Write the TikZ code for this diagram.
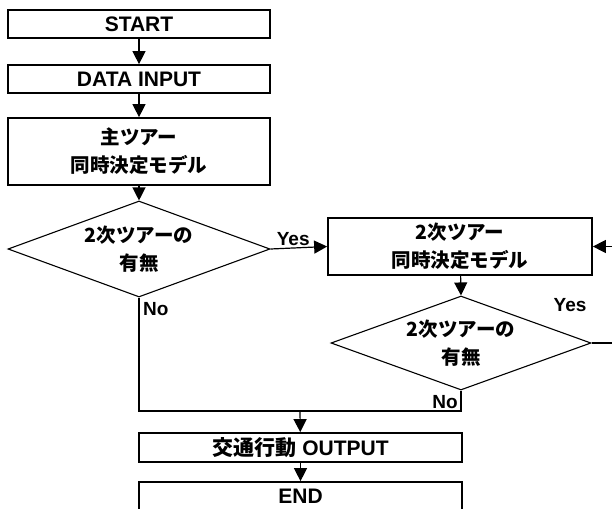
\documentclass[tikz,border=0pt]{standalone}
\usepackage{fontspec}
\setmainfont{Liberation Sans}
\newfontfamily\jp{Noto Sans CJK JP}
\usetikzlibrary{shapes.geometric,arrows.meta}

\begin{document}
\begin{tikzpicture}[x=1pt,y=-1pt,
  box/.style={draw,line width=1.7pt,rectangle,inner sep=0pt,align=center,
    font=\bfseries\fontsize{21}{28}\selectfont},
  jpbox/.style={box,font=\jp\bfseries\fontsize{19.5}{28}\selectfont},
  decision/.style={draw,line width=1.1pt,diamond,inner sep=0pt},
  dtext/.style={align=center,inner sep=0pt,
    font=\jp\bfseries\fontsize{19.5}{28}\selectfont},
  flow/.style={line width=1.2pt,-{Triangle[length=13pt,width=13pt]}},
  wire/.style={line width=1.2pt},
  lbl/.style={font=\bfseries\fontsize{19}{22}\selectfont,inner sep=1pt}]

\path[use as bounding box] (0,0) rectangle (612,508);
\clip (0,0) rectangle (612,508);

% main column
\node[box,minimum width=262pt,minimum height=28pt] (start) at (139,24) {START};
\node[box,minimum width=262pt,minimum height=28pt] (input) at (139,79) {DATA INPUT};
\node[jpbox,minimum width=262pt,minimum height=67pt] (main) at (139,151.5)
  {主ツアー\\同時決定モデル};
\node[decision,minimum width=262pt,minimum height=96pt] (d1) at (139,249) {};
\node[dtext] (d1t) at (d1) {2次ツアーの\\有無};

% secondary tour loop
\node[jpbox,minimum width=264pt,minimum height=57pt] (sub) at (460,246.5)
  {2次ツアー\\同時決定モデル};
\node[decision,minimum width=260pt,minimum height=94pt] (d2) at (461,343) {};
\node[dtext] (d2t) at (d2) {2次ツアーの\\有無};

% output and end
\node[box,minimum width=323pt,minimum height=29pt] (out) at (300.5,447.5)
  {{\jp 交通行動} OUTPUT};
\node[box,minimum width=323pt,minimum height=29pt] (end) at (300.5,496.5) {END};

\coordinate (merge) at (300,411);
\coordinate (loop) at (640,343);

% connectors
\draw[flow] (start) -- (input);
\draw[flow] (input) -- (main);
\draw[flow] (main) -- (d1.north);
\draw[flow] (d1.east) -- (sub.west)
  node[lbl,pos=0.4,above=1pt] {Yes};
\draw[flow] (sub) -- (d2.north);
\draw[wire] (d1.south) |- (merge) -| (d2.south);
\draw[flow] (merge) -- (out);
\draw[flow] (out) -- (end);
\draw[flow] (d2.east) -- (loop) |- (sub.east);

% branch labels
\node[lbl,anchor=north west] at ([shift={(3,4)}]d1.south) {No};
\node[lbl,anchor=east] at ([shift={(-2,12)}]d2.south) {No};
\node[lbl] at (570,305) {Yes};
\end{tikzpicture}
\end{document}
